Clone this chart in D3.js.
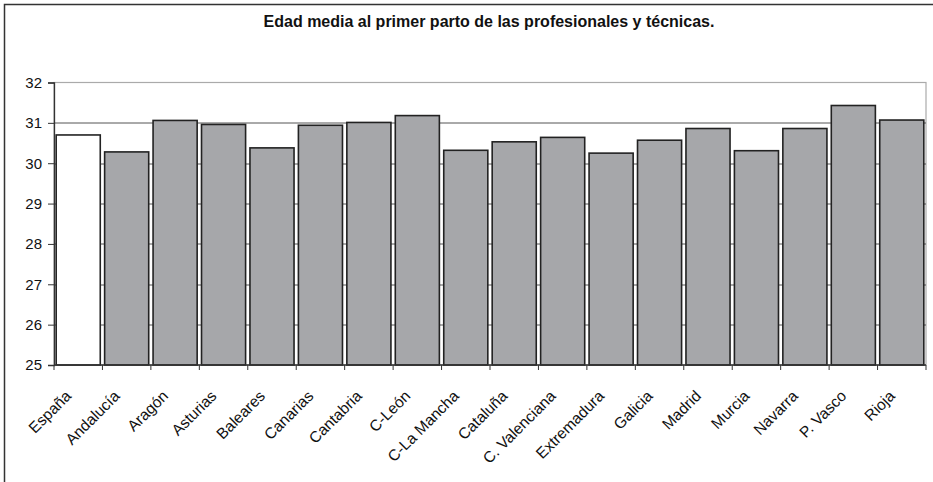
<!DOCTYPE html>
<html>
<head>
<meta charset="utf-8">
<script src="https://cdn.jsdelivr.net/npm/d3@7"></script>
<style>
  body { margin: 0; background: #fff; }
  text { font-family: "Liberation Sans", Arial, sans-serif; fill: #111; }
</style>
</head>
<body>
<div id="chart"></div>
<script>
var categories = ["España", "Andalucía", "Aragón", "Asturias", "Baleares", "Canarias",
  "Cantabria", "C-León", "C-La Mancha", "Cataluña", "C. Valenciana", "Extremadura",
  "Galicia", "Madrid", "Murcia", "Navarra", "P. Vasco", "Rioja"];
var values = [30.70, 30.28, 31.06, 30.96, 30.38, 30.94, 31.01, 31.18, 30.32,
  30.53, 30.64, 30.25, 30.57, 30.86, 30.31, 30.86, 31.43, 31.07];
var yTicks = [25, 26, 27, 28, 29, 30, 31, 32];
var title = "Edad media al primer parto de las profesionales y técnicas.";

var width = 933, height = 482;
var margin = {top: 82.5, right: 7, bottom: 117, left: 54};
var plotW = width - margin.left - margin.right,
    plotH = height - margin.top - margin.bottom;

var svg = d3.select("#chart").append("svg")
    .attr("width", width)
    .attr("height", height);

// outer frame (only top and left edges are visible in the crop)
svg.append("path")
    .attr("d", "M4.5," + height + "V4.5H" + width)
    .attr("fill", "none")
    .attr("stroke", "#333")
    .attr("stroke-width", 1.5);

svg.append("text")
    .attr("x", 489)
    .attr("y", 27)
    .attr("text-anchor", "middle")
    .style("font-size", "16px")
    .style("font-weight", "bold")
    .text(title);

var g = svg.append("g")
    .attr("transform", "translate(" + margin.left + "," + margin.top + ")");

var x = d3.scaleBand()
    .domain(categories)
    .range([0, plotW])
    .paddingInner(0.09)
    .paddingOuter(0.045);

var y = d3.scaleLinear()
    .domain([25, 32])
    .range([plotH, 0]);

// plot area border (light)
g.append("rect")
    .attr("x", 0).attr("y", 0)
    .attr("width", plotW).attr("height", plotH)
    .attr("fill", "none")
    .attr("stroke", "#aaa")
    .attr("stroke-width", 1.2);

// gridlines
g.selectAll(".grid")
    .data(yTicks.filter(function(d) { return d > 25 && d < 32; }))
  .enter().append("line")
    .attr("class", "grid")
    .attr("x1", 0).attr("x2", plotW)
    .attr("y1", function(d) { return Math.round(y(d)) + 0.5; })
    .attr("y2", function(d) { return Math.round(y(d)) + 0.5; })
    .attr("stroke", "#555")
    .attr("stroke-width", 1);

// bars
g.selectAll(".bar")
    .data(values)
  .enter().append("rect")
    .attr("class", "bar")
    .attr("x", function(d, i) { return x(categories[i]); })
    .attr("width", x.bandwidth())
    .attr("y", function(d) { return y(d); })
    .attr("height", function(d) { return plotH - y(d); })
    .attr("fill", function(d, i) { return i === 0 ? "#ffffff" : "#a6a7aa"; })
    .attr("stroke", "#222")
    .attr("stroke-width", 1.6);

// y axis
var yAxis = g.append("g")
    .call(d3.axisLeft(y).tickValues(yTicks).tickFormat(d3.format("d")).tickSize(6).tickPadding(6));
yAxis.select(".domain").attr("stroke", "#333").attr("stroke-width", 1.3);
yAxis.selectAll(".tick line").attr("stroke", "#333");
yAxis.selectAll("text").style("font-size", "15px").attr("fill", "#111")
    .style("font-family", "'Liberation Sans', Arial, sans-serif");

// x axis line + ticks at band boundaries
var step = x.step();
var bounds = d3.range(categories.length + 1).map(function(i) { return i * step; });
g.append("line")
    .attr("x1", 0).attr("x2", plotW)
    .attr("y1", plotH).attr("y2", plotH)
    .attr("stroke", "#333").attr("stroke-width", 1.3);
g.selectAll(".xtick")
    .data(bounds)
  .enter().append("line")
    .attr("class", "xtick")
    .attr("x1", function(d) { return d; }).attr("x2", function(d) { return d; })
    .attr("y1", plotH).attr("y2", plotH + 5)
    .attr("stroke", "#333");

// rotated category labels
g.selectAll(".xlabel")
    .data(categories)
  .enter().append("text")
    .attr("class", "xlabel")
    .attr("text-anchor", "end")
    .attr("transform", function(d) {
      return "translate(" + (x(d) + x.bandwidth() / 2 - 6) + "," + (plotH + 32) + ") rotate(-45)";
    })
    .style("font-size", "15.5px")
    .text(function(d) { return d; });
</script>
</body>
</html>
